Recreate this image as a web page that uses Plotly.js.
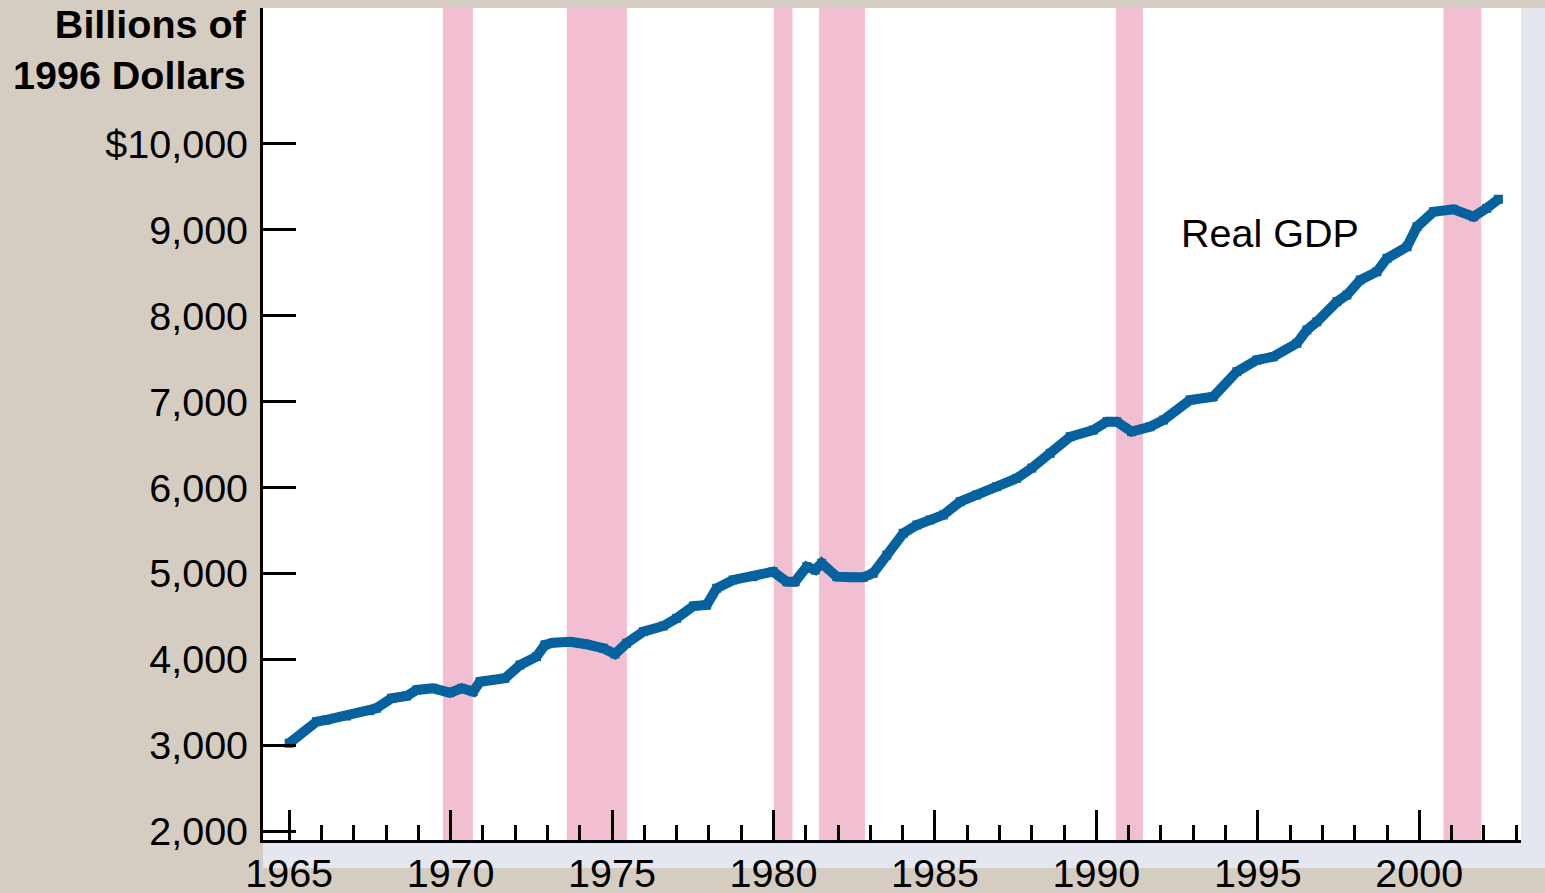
<!DOCTYPE html>
<html>
<head>
<meta charset="utf-8">
<script src="https://cdn.plot.ly/plotly-3.0.1.min.js"></script>
<style>
html,body{margin:0;padding:0;background:#d5cdc2;}
#chart{width:1545px;height:893px;}
</style>
</head>
<body>
<div id="chart"></div>
<script>
// Real GDP, billions of 1996 dollars, x in decimal years
const years = [1965.0,1965.85,1966.16,1966.78,1967.5,1967.7,1968.17,1968.64,1968.95,1969.46,1969.98,1970.34,1970.70,1970.91,1971.68,1972.15,1972.66,1972.92,1973.18,1973.70,1974.21,1974.73,1975.09,1975.45,1975.97,1976.59,1977.0,1977.52,1977.93,1978.24,1978.75,1979.37,1979.99,1980.41,1980.67,1981.03,1981.29,1981.49,1981.96,1982.37,1982.78,1983.09,1983.51,1984.02,1984.44,1984.85,1985.26,1985.78,1986.29,1986.91,1987.53,1988.0,1988.57,1989.19,1989.91,1990.32,1990.63,1991.09,1991.66,1992.08,1992.90,1993.62,1994.35,1994.97,1995.48,1996.21,1996.52,1996.83,1997.45,1997.76,1998.17,1998.69,1999.0,1999.62,1999.93,2000.44,2001.06,2001.68,2002.09,2002.45];
const realGDP = [3028,3279,3299,3345,3407,3435,3551,3578,3648,3667,3616,3667,3628,3744,3783,3938,4035,4171,4198,4209,4179,4133,4066,4191,4326,4392,4481,4624,4636,4830,4927,4965,5023,4907,4907,5081,5043,5121,4965,4958,4958,5005,5217,5470,5566,5625,5683,5837,5915,6012,6109,6228,6400,6593,6671,6767,6767,6651,6709,6787,7020,7058,7349,7485,7523,7679,7834,7930,8163,8241,8415,8512,8667,8802,9035,9209,9237,9151,9249,9354];

// Recession periods (start, end) in decimal years
const recessionStart = [1969.76,1973.60,1980.01,1981.41,1990.61,2000.75];
const recessionEnd   = [1970.69,1975.46,1980.59,1982.83,1991.44,2001.92];

const yTickVals = [2000,3000,4000,5000,6000,7000,8000,9000,10000];
const yTickText = ['2,000','3,000','4,000','5,000','6,000','7,000','8,000','9,000','$10,000'];
const xTickVals = [1965,1970,1975,1980,1985,1990,1995,2000];
const xTickText = ['1965','1970','1975','1980','1985','1990','1995','2000'];

const shapes = [];
for (let i = 0; i < recessionStart.length; i++) {
  shapes.push({type:'rect', xref:'x', yref:'paper', x0:recessionStart[i], x1:recessionEnd[i], y0:0, y1:1,
    fillcolor:'#f2bed1', line:{width:0}, layer:'below'});
}
// light strips right and below plot
shapes.push({type:'rect', xref:'paper', yref:'paper', x0:1, x1:1.02, y0:-0.0337, y1:1, fillcolor:'#e4e7ef', line:{width:0}, layer:'below'});
shapes.push({type:'rect', xref:'paper', yref:'paper', x0:0, x1:1.02, y0:-0.0337, y1:0, fillcolor:'#e4e7ef', line:{width:0}, layer:'below'});

const trace = {
  x: years, y: realGDP, type:'scatter', mode:'lines+markers',
  line:{color:'#06629e', width:10},
  marker:{symbol:'square', size:9, color:'#06629e'},
  hoverinfo:'skip', showlegend:false
};

const font = {family:'"Liberation Sans", Arial, sans-serif', color:'#000'};
const FS = 39.5;

const layout = {
  width:1545, height:893,
  margin:{l:263, r:24, t:8, b:53, pad:0},
  paper_bgcolor:'#d5cdc2',
  plot_bgcolor:'#ffffff',
  font: font,
  showlegend:false,
  xaxis:{
    range:[1964.19, 2003.15], showgrid:false, zeroline:false,
    showline:true, linecolor:'#000', linewidth:3,
    tickmode:'array', tickvals:xTickVals, ticktext:xTickText,
    ticks:'inside', ticklen:30, tickwidth:3, tickcolor:'#000',
    tickfont:{family:font.family, size:FS, color:'#000'},
    ticklabelstandoff:-3,
    minor:{dtick:1, tick0:1965, ticks:'inside', ticklen:15, tickwidth:3, tickcolor:'#000', showgrid:false},
    fixedrange:true
  },
  yaxis:{
    range:[1903, 11578], showgrid:false, zeroline:false,
    showline:true, linecolor:'#000', linewidth:3,
    tickmode:'array', tickvals:yTickVals, ticktext:yTickText,
    ticks:'inside', ticklen:33, tickwidth:3, tickcolor:'#000',
    tickfont:{family:font.family, size:FS, color:'#000'},
    ticklabelstandoff:4,
    fixedrange:true
  },
  shapes: shapes,
  annotations:[
    {xref:'paper', yref:'paper', x:-0.0111, y:1.01, xanchor:'right', yanchor:'top', align:'right',
     showarrow:false, text:'<b>Billions of</b><br><b>1996 Dollars</b>',
     font:{family:font.family, size:FS, color:'#000'}},
    {xref:'x', yref:'y', x:1992.55, y:8962, xanchor:'left', yanchor:'middle', showarrow:false,
     text:'Real GDP', font:{family:font.family, size:FS, color:'#000'}}
  ]
};

Plotly.newPlot('chart', [trace], layout, {displayModeBar:false, staticPlot:true});
</script>
</body>
</html>
